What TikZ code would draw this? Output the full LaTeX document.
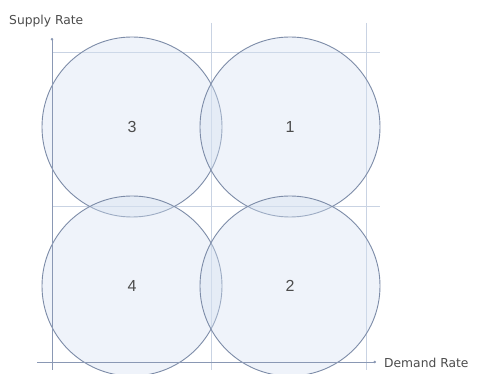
\documentclass[tikz,border=0pt]{standalone}
\usepackage{fontspec}
\setmainfont{Liberation Sans}
\newfontfamily\labfont{DejaVu Sans}
\usetikzlibrary{arrows.meta}
\definecolor{gridc}{HTML}{C9D3E3}
\definecolor{axisc}{HTML}{8A98B4}
\definecolor{circc}{HTML}{7D8CA8}
\definecolor{fillc}{HTML}{D5E2F2}
\begin{document}
\begin{tikzpicture}[x=1pt,y=-1pt,
  gridline/.style={draw=gridc, line width=0.8pt},
  axisline/.style={draw=axisc, line width=0.9pt, -{Circle[length=2.5pt]}},
  bubble/.style={circle, draw=circc, line width=0.9pt, fill=fillc, fill opacity=0.38, text opacity=1, minimum size=180pt, inner sep=0pt},
  num/.style={font=\fontsize{16}{16}\selectfont, text=black!70},
  lab/.style={font=\labfont\fontsize{12.3}{12.3}\selectfont, text=black!70, inner sep=0pt}]
\useasboundingbox (0,0) rectangle (480,374);
\fill[white] (0,0) rectangle (480,374);
% grid
\draw[gridline] (52,52) -- (380,52);
\draw[gridline] (52,206) -- (380,206);
\draw[gridline] (211,23) -- (211,370);
\draw[gridline] (366,23) -- (366,370);
% circles
\node[bubble] (c3) at (132,127) {};
\node[bubble] (c1) at (290,127) {};
\node[bubble] (c4) at (132,286) {};
\node[bubble] (c2) at (290,286) {};
\node[num] (n3) at (c3) {3};
\node[num] (n1) at (c1) {1};
\node[num] (n4) at (c4) {4};
\node[num] (n2) at (c2) {2};
% axes
\coordinate (ytop) at (52,38);
\coordinate (xend) at (376,362);
\draw[axisline] (52,370) -- (ytop);
\draw[axisline] (37,362) -- (xend);
\node[lab, anchor=west] (sl) at (9,21) {Supply Rate};
\node[lab, anchor=west] (dl) at (384,363) {Demand Rate};
\end{tikzpicture}
\end{document}
